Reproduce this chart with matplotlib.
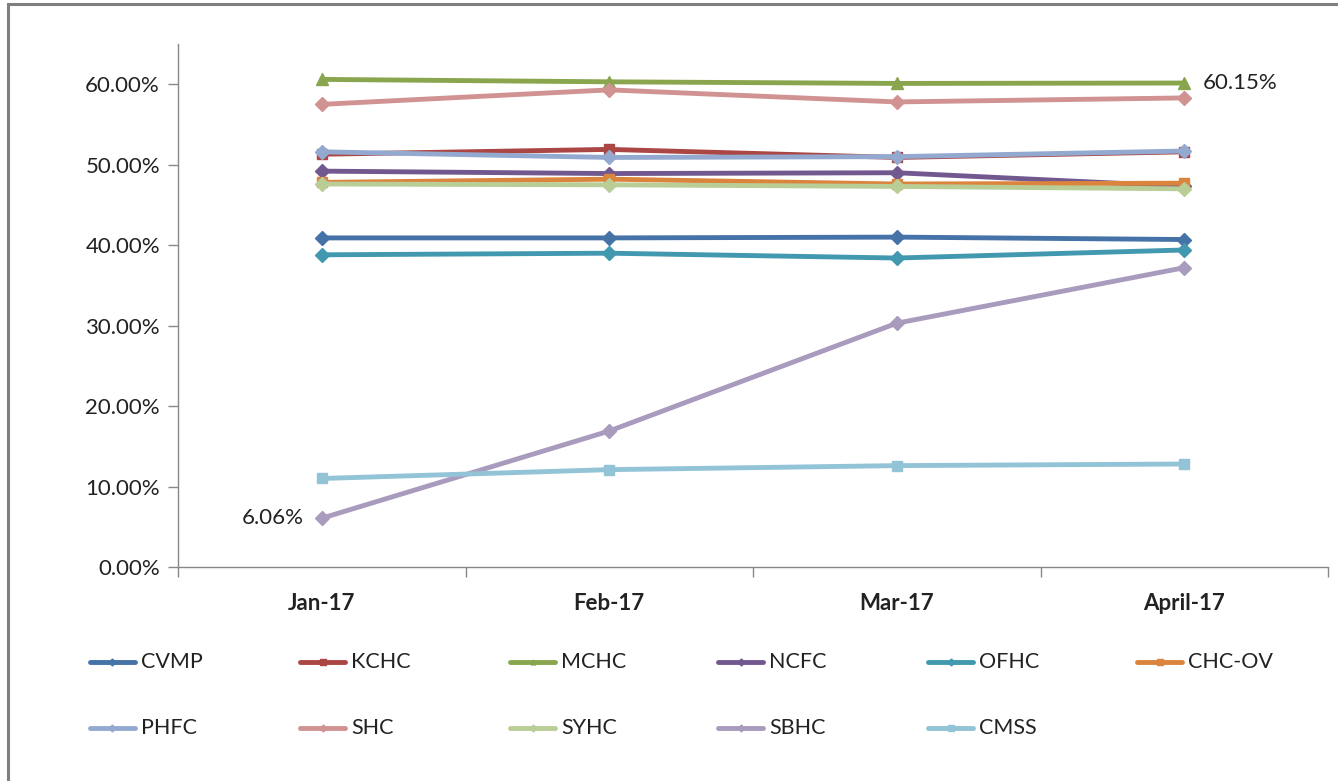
import matplotlib
matplotlib.use("Agg")
import matplotlib.pyplot as plt
from matplotlib.ticker import FuncFormatter, FixedLocator
from matplotlib.lines import Line2D
from matplotlib.patches import Rectangle

plt.rcParams['font.family'] = ['Lato', 'DejaVu Sans']

months = ["Jan-17", "Feb-17", "Mar-17", "April-17"]
CVMP = [40.9, 40.9, 41.0, 40.7]
KCHC = [51.3, 51.9, 50.9, 51.6]
MCHC = [60.6, 60.3, 60.1, 60.15]
NCFC = [49.2, 48.9, 49.0, 47.3]
OFHC = [38.8, 39.0, 38.4, 39.4]
CHC_OV = [47.8, 48.2, 47.6, 47.7]
PHFC = [51.6, 50.9, 51.0, 51.7]
SHC = [57.5, 59.3, 57.8, 58.3]
SYHC = [47.6, 47.5, 47.3, 47.0]
SBHC = [6.06, 16.9, 30.3, 37.2]
CMSS = [11.0, 12.1, 12.6, 12.8]

series = [
    ("CVMP", CVMP, "#4572A7", "D"),
    ("KCHC", KCHC, "#AA4643", "s"),
    ("MCHC", MCHC, "#89A54E", "^"),
    ("NCFC", NCFC, "#71588F", "D"),
    ("OFHC", OFHC, "#4198AF", "D"),
    ("CHC-OV", CHC_OV, "#DB843D", "s"),
    ("PHFC", PHFC, "#93A9CF", "D"),
    ("SHC", SHC, "#D19392", "D"),
    ("SYHC", SYHC, "#B9CD96", "D"),
    ("SBHC", SBHC, "#A99BBD", "D"),
    ("CMSS", CMSS, "#92C3D6", "s"),
]

W, H = 1338, 781
fig = plt.figure(figsize=(W / 100, H / 100), dpi=100)
fig.patch.set_facecolor("white")

# outer frame
fig.add_artist(Rectangle((8 / W, -0.05), 1.2, 1 - 4 / H + 0.05, transform=fig.transFigure,
                         fill=False, edgecolor="#7f7f7f", linewidth=2.2))

ax = fig.add_axes([178 / W, 1 - 567 / H, (1328 - 178) / W, (567 - 44) / H])
x = list(range(len(months)))
for name, vals, color, mk in series:
    ms = 7 if mk != "^" else 8
    ax.plot(x, vals, color=color, linewidth=3.5, marker=mk, markersize=ms,
            markeredgecolor=color, markerfacecolor=color, label=name, solid_capstyle="round")

ax.set_xlim(-0.5, 3.5)
ax.set_ylim(0, 65)
ax.set_yticks([0, 10, 20, 30, 40, 50, 60])
ax.yaxis.set_major_formatter(FuncFormatter(lambda v, p: f"{v:.2f}%"))
ax.set_xticks(x)
ax.set_xticklabels(months, fontsize=16, fontweight="bold", color="#222222")
ax.xaxis.set_minor_locator(FixedLocator([-0.5, 0.5, 1.5, 2.5, 3.5]))
ax.tick_params(axis="x", which="major", length=0, pad=19)
ax.tick_params(axis="x", which="minor", length=7, width=1, color="#888888", direction="out")
ax.tick_params(axis="y", length=7, width=1, color="#888888", labelsize=16, labelcolor="#222222", pad=6)
for s in ["top", "right"]:
    ax.spines[s].set_visible(False)
for s in ["left", "bottom"]:
    ax.spines[s].set_color("#888888")
    ax.spines[s].set_linewidth(1)

ax.annotate("6.06%", xy=(0, SBHC[0]), xytext=(-13, 0), textcoords="offset points",
            ha="right", va="center", fontsize=16, color="#222222")
ax.annotate("60.15%", xy=(3, MCHC[3]), xytext=(13, 0), textcoords="offset points",
            ha="left", va="center", fontsize=16, color="#222222")

# legend: 2 rows x 6 columns, manual placement
col_x = [90, 300, 510, 718, 928, 1137]
row_y = [662, 728]
for i, (name, vals, color, mk) in enumerate(series):
    r, c = divmod(i, 6)
    x0 = col_x[c] / W
    x1 = (col_x[c] + 45) / W
    yy = 1 - row_y[r] / H
    fig.add_artist(Line2D([x0, x1], [yy, yy], transform=fig.transFigure, color=color,
                          linewidth=3.5, solid_capstyle="round"))
    fig.add_artist(Line2D([(x0 + x1) / 2], [yy], transform=fig.transFigure, color=color,
                          marker=mk, markersize=5 if mk == "s" else 3.5, linestyle="none"))
    fig.text(x1 + 6 / W, yy, name, fontsize=15.5, va="center", ha="left", color="#222222")

fig.savefig("out.png", dpi=100, facecolor="white")
